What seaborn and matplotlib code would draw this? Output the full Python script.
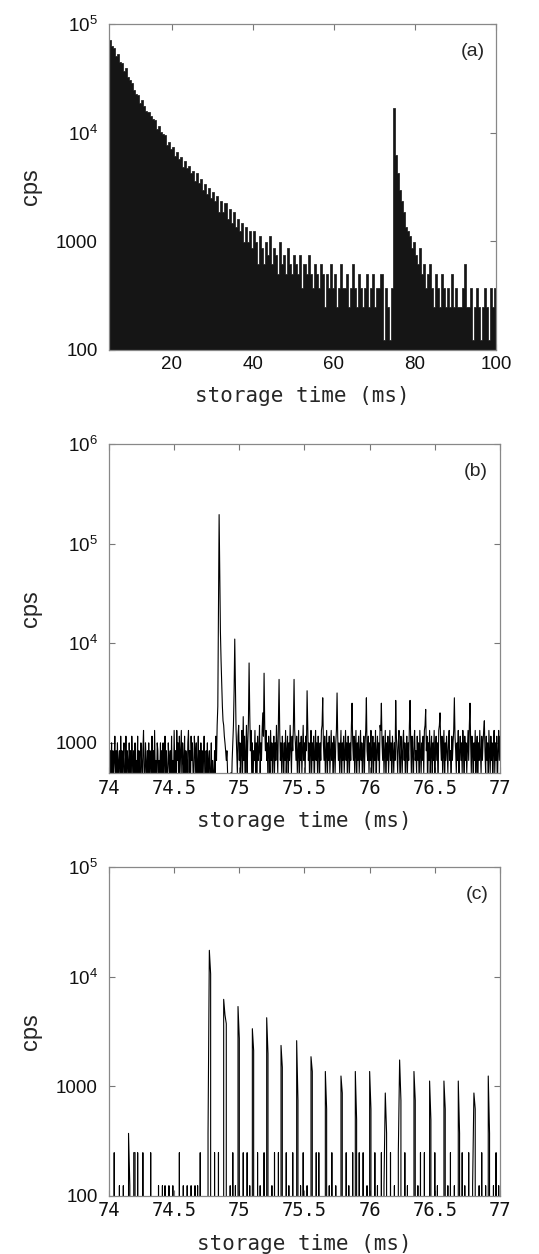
import numpy as np
import pandas as pd
import matplotlib
matplotlib.use("Agg")
import matplotlib.pyplot as plt
from matplotlib.ticker import FixedLocator, NullLocator
import seaborn as sns

# DATA
# (a) storage-time histogram, 0.5 ms bins starting at 4.5 ms, in counts per bin
a_t0 = 4.5
a_bin = 0.5
a_cps_per_count = 124
a_counts = [
    572, 508, 481, 410, 430, 362, 351, 299, 316, 262,   # 4.5 - 9.0
    247, 229, 201, 183, 178, 150, 162, 141, 128, 124,   # 9.5 - 14.0
    115, 108, 106, 88, 93, 82, 79, 77, 62, 66,          # 14.5 - 19.0
    57, 59, 49, 54, 46, 48, 39, 44, 38, 40,             # 19.5 - 24.0
    34, 36, 29, 34, 28, 30, 24, 27, 22, 25,             # 24.5 - 29.0
    20, 23, 19, 21, 15, 19, 15, 18, 13, 16,             # 29.5 - 34.0
    12, 15, 11, 13, 10, 12, 8, 11, 8, 10,               # 34.5 - 39.0
    7, 10, 8, 5, 9, 7, 5, 8, 6, 9,                      # 39.5 - 44.0
    5, 7, 6, 4, 8, 5, 6, 4, 7, 5,                       # 44.5 - 49.0
    4, 6, 5, 4, 6, 3, 5, 4, 6, 4,                       # 49.5 - 54.0
    3, 5, 4, 3, 5, 4, 2, 4, 3, 5,                       # 54.5 - 59.0
    3, 4, 2, 3, 5, 3, 3, 4, 2, 3,                       # 59.5 - 64.0
    5, 3, 2, 4, 3, 2, 3, 4, 2, 3,                       # 64.5 - 69.0
    4, 2, 3, 3, 4, 1, 3, 2, 1, 3,                       # 69.5 - 74.0
    137, 50, 34, 24, 19, 15, 11, 10, 9, 7,              # 74.5 - 79.0
    8, 6, 5, 7, 4, 5, 3, 4, 5, 3,                       # 79.5 - 84.0
    2, 4, 3, 2, 4, 3, 2, 3, 2, 4,                       # 84.5 - 89.0
    2, 3, 2, 2, 3, 5, 2, 2, 3, 1,                       # 89.5 - 94.0
    2, 3, 2, 1, 2, 3, 2, 1, 3, 2,                       # 94.5 - 99.0
    3,                                                  # 99.5
]

# (b): 5 us samples from 74.000 to 77.000 ms, in counts per sample
b_t0 = 74.0
b_dt = 0.005
b_cps_per_count = 167
b_counts = [
    4, 2, 5, 3, 6, 2, 5, 3, 4, 7, 2, 5, 3, 6, 2, 4, 5, 2, 7, 3,          # 74.0
    5, 2, 4, 6, 2, 3, 7, 2, 5, 4, 2, 6, 3, 5, 2, 7, 4, 2, 5, 3,          # 74.1
    6, 2, 4, 3, 7, 2, 5, 3, 2, 6, 4, 2, 5, 8, 3, 2, 6, 4, 2, 5,          # 74.2
    3, 6, 2, 5, 4, 2, 7, 3, 5, 2, 8, 3, 4, 2, 6, 5, 2, 4, 3, 6,          # 74.3
    2, 5, 3, 6, 2, 4, 7, 2, 5, 3, 2, 6, 4, 3, 5, 2, 7, 3, 4, 2,          # 74.4
    8, 3, 5, 2, 8, 4, 6, 2, 7, 3, 5, 8, 2, 6, 4, 3, 7, 2, 5, 4,          # 74.5
    2, 6, 8, 3, 5, 2, 7, 4, 6, 3, 2, 7, 5, 3, 6, 2, 4, 7, 3, 5,          # 74.6
    2, 6, 3, 5, 2, 4, 7, 3, 2, 5, 3, 6, 2, 4, 5, 2, 3, 6, 2, 4,          # 74.7
    3, 2, 5, 3, 7, 4, 9, 14, 120, 1170, 300, 78, 40, 24, 14, 10, 9, 7, 6, 5,  # 74.8
    4, 5, 3, 2, 1, 2, 1, 3, 2, 4, 6, 9, 20, 66, 24, 8, 5, 3, 7, 9,       # 74.9
    4, 6, 2, 5, 8, 3, 11, 4, 7, 2, 5, 9, 3, 6, 10, 38, 12, 5, 8, 3,      # 75.0
    6, 2, 5, 4, 8, 3, 6, 2, 7, 4, 5, 9, 3, 6, 4, 8, 12, 7, 30, 9,        # 75.1
    5, 8, 4, 6, 2, 7, 5, 3, 8, 4, 6, 2, 5, 7, 3, 6, 4, 9, 5, 3,          # 75.2
    10, 26, 8, 4, 6, 3, 7, 5, 2, 6, 4, 8, 3, 5, 7, 2, 6, 4, 9, 5,        # 75.3
    3, 7, 5, 9, 26, 8, 6, 4, 7, 3, 5, 8, 2, 6, 4, 7, 3, 5, 9, 4,         # 75.4
    6, 3, 7, 5, 20, 9, 4, 6, 2, 5, 8, 3, 6, 4, 7, 2, 5, 8, 4, 6,         # 75.5
    3, 7, 5, 2, 6, 4, 8, 9, 17, 6, 4, 7, 3, 5, 8, 2, 6, 4, 7, 3,         # 75.6
    5, 8, 4, 6, 2, 7, 5, 3, 6, 8, 19, 7, 4, 6, 3, 5, 8, 2, 6, 4,         # 75.7
    7, 3, 5, 8, 4, 6, 2, 7, 5, 3, 6, 4, 9, 15, 6, 4, 7, 3, 5, 8,         # 75.8
    2, 6, 4, 7, 3, 5, 8, 4, 6, 2, 5, 7, 3, 6, 8, 17, 5, 4, 7, 3,         # 75.9
    6, 4, 8, 2, 5, 7, 3, 6, 4, 8, 2, 5, 7, 4, 6, 3, 9, 8, 15, 6,         # 76.0
    4, 7, 3, 5, 8, 2, 6, 4, 7, 3, 5, 8, 4, 6, 2, 7, 5, 3, 6, 4,          # 76.1
    16, 7, 5, 3, 6, 8, 4, 2, 7, 5, 3, 6, 8, 4, 6, 2, 5, 7, 3, 6,         # 76.2
    4, 9, 16, 6, 3, 7, 5, 2, 6, 8, 4, 5, 3, 7, 4, 6, 2, 8, 5, 3,         # 76.3
    6, 4, 7, 3, 8, 9, 13, 5, 7, 2, 6, 4, 8, 3, 5, 7, 2, 6, 4, 8,         # 76.4
    3, 5, 7, 4, 6, 2, 8, 9, 12, 6, 4, 7, 3, 5, 8, 2, 6, 4, 7, 5,         # 76.5
    3, 6, 8, 4, 5, 2, 7, 4, 6, 8, 17, 7, 5, 3, 6, 4, 8, 2, 5, 7,         # 76.6
    4, 6, 3, 8, 5, 2, 7, 4, 6, 3, 5, 8, 4, 9, 15, 6, 3, 7, 5, 2,         # 76.7
    6, 4, 8, 3, 5, 7, 2, 6, 4, 8, 5, 3, 7, 4, 6, 8, 10, 5, 3, 7,         # 76.8
    4, 6, 2, 8, 5, 3, 7, 4, 6, 2, 5, 8, 3, 6, 4, 7, 2, 5, 8, 4,          # 76.9
    7,                                                                   # 77.0
]

# (c): 10 us samples from 74.00 to 77.00 ms, in counts per sample
c_t0 = 74.0
c_dt = 0.01
c_cps_per_count = 124
c_counts = [
    0, 0, 0, 0, 2, 0, 0, 0, 1, 0,        # 74.0
    0, 1, 0, 0, 0, 3, 1, 0, 0, 2,        # 74.1
    2, 0, 2, 0, 0, 0, 2, 0, 0, 0,        # 74.2
    0, 0, 2, 0, 0, 0, 0, 0, 1, 0,        # 74.3
    0, 1, 0, 1, 0, 0, 1, 0, 0, 1,        # 74.4
    0, 0, 0, 0, 2, 0, 0, 1, 0, 0,        # 74.5
    1, 0, 0, 1, 0, 0, 1, 0, 1, 0,        # 74.6
    2, 0, 0, 0, 0, 0, 3, 140, 85, 0,     # 74.7
    0, 2, 0, 0, 2, 0, 0, 0, 50, 36,      # 74.8
    30, 0, 0, 1, 0, 2, 0, 1, 0, 43,      # 74.9
    22, 0, 0, 2, 0, 0, 2, 0, 1, 0,       # 75.0
    27, 17, 0, 0, 2, 0, 1, 0, 0, 2,      # 75.1
    0, 34, 16, 0, 0, 1, 0, 2, 0, 0,      # 75.2
    2, 0, 19, 12, 0, 0, 2, 0, 1, 0,      # 75.3
    0, 2, 0, 0, 21, 6, 0, 1, 0, 2,       # 75.4
    0, 0, 1, 0, 0, 15, 11, 0, 0, 2,      # 75.5
    0, 2, 0, 0, 0, 0, 11, 5, 0, 1,       # 75.6
    0, 2, 0, 0, 1, 0, 0, 0, 10, 7,       # 75.7
    0, 0, 2, 0, 1, 0, 0, 2, 0, 11,       # 75.8
    4, 0, 2, 0, 0, 2, 0, 0, 1, 0,        # 75.9
    11, 5, 0, 0, 2, 0, 1, 0, 0, 2,       # 76.0
    0, 1, 7, 3, 0, 0, 2, 0, 0, 1,        # 76.1
    0, 0, 2, 14, 6, 0, 0, 2, 0, 1,       # 76.2
    0, 0, 0, 0, 11, 6, 0, 1, 0, 2,       # 76.3
    0, 0, 2, 0, 0, 0, 9, 4, 0, 0,        # 76.4
    2, 0, 1, 0, 0, 0, 0, 9, 5, 0,        # 76.5
    1, 0, 2, 0, 0, 1, 0, 0, 9, 3,        # 76.6
    0, 2, 0, 1, 0, 0, 2, 0, 0, 1,        # 76.7
    7, 5, 0, 0, 1, 0, 2, 0, 0, 1,        # 76.8
    0, 10, 3, 0, 0, 1, 0, 2, 0, 1,       # 76.9
    0,                                   # 77.0
]

a_xticks = [20, 40, 60, 80, 100]
a_yticks = [100, 1000, 1e4, 1e5]
a_ylabels = ['100', '1000', '$10^{4}$', '$10^{5}$']
bc_xticks = [74, 74.5, 75, 75.5, 76, 76.5, 77]
bc_xlabels = ['74', '74.5', '75', '75.5', '76', '76.5', '77']
b_yticks = [1000, 1e4, 1e5, 1e6]
b_ylabels = ['1000', '$10^{4}$', '$10^{5}$', '$10^{6}$']
c_yticks = [100, 1000, 1e4, 1e5]
c_ylabels = ['100', '1000', '$10^{4}$', '$10^{5}$']

# STYLE
sns.set_style("ticks")
plt.rcParams['font.family'] = ['Liberation Sans', 'DejaVu Sans']
plt.rcParams['mathtext.fontset'] = 'custom'
plt.rcParams['mathtext.rm'] = 'Liberation Sans'
plt.rcParams['mathtext.it'] = 'Liberation Sans:italic'
plt.rcParams['mathtext.bf'] = 'Liberation Sans:bold'

fig = plt.figure(figsize=(5.39, 12.54), dpi=100)
ax_a = fig.add_axes([0.2022, 0.7209, 0.7180, 0.2600])
ax_b = fig.add_axes([0.2022, 0.3836, 0.7254, 0.2624])
ax_c = fig.add_axes([0.2022, 0.0463, 0.7254, 0.2624])

# (a) histogram
a_edges = a_t0 + a_bin * np.arange(len(a_counts) + 1)
df_a = pd.DataFrame({
    't': a_edges[:-1] + a_bin / 2,
    'cps': np.array(a_counts) * a_cps_per_count,
})
sns.histplot(data=df_a, x='t', weights='cps', bins=list(a_edges),
             element='step', fill=True, color='#151515',
             alpha=1, linewidth=0.5, ax=ax_a)

# (b) and (c) time traces
df_b = pd.DataFrame({
    't': np.round(b_t0 + b_dt * np.arange(len(b_counts)), 3),
    'cps': np.array(b_counts) * b_cps_per_count,
})
df_c = pd.DataFrame({
    't': np.round(c_t0 + c_dt * np.arange(len(c_counts)), 3),
    'cps': np.array(c_counts) * c_cps_per_count,
})
sns.lineplot(data=df_b, x='t', y='cps', color='black',
             lw=0.8, estimator=None, sort=False, ax=ax_b)
sns.lineplot(data=df_c, x='t', y='cps', color='black',
             lw=0.8, estimator=None, sort=False, ax=ax_c)


def style_axes(ax, xlim, ylim, xticks, xlabels, yticks, ylabels, tag, mono):
    ax.set_yscale('log')
    ax.set_xlim(*xlim)
    ax.set_ylim(*ylim)
    ax.yaxis.set_major_locator(FixedLocator(yticks))
    ax.yaxis.set_minor_locator(NullLocator())
    ax.set_yticklabels(ylabels)
    ax.set_xticks(xticks, xlabels)
    ax.xaxis.set_minor_locator(NullLocator())
    ax.tick_params(axis='both', which='major', direction='in', length=4,
                   width=0.8, color='#777777', labelcolor='#111111',
                   top=True, right=True, labelsize=13.5)
    ax.tick_params(axis='y', pad=8)
    ax.tick_params(axis='x', pad=4)
    if mono:
        for lbl in ax.get_xticklabels():
            lbl.set_fontfamily('DejaVu Sans Mono')
            lbl.set_fontsize(13.5)
    for sp in ax.spines.values():
        sp.set_visible(True)
        sp.set_color('#888888')
        sp.set_linewidth(0.9)
    ax.set_xlabel('storage time (ms)', fontsize=15, family='DejaVu Sans Mono',
                  labelpad=10)
    ax.set_ylabel('cps', fontsize=17, labelpad=10)
    ax.text(0.97, 0.915, tag, transform=ax.transAxes, ha='right', va='center',
            fontsize=14)


style_axes(ax_a, (4.5, 100), (100, 1e5), a_xticks, [str(v) for v in a_xticks],
           a_yticks, a_ylabels, '(a)', False)
style_axes(ax_b, (74, 77), (500, 1e6), bc_xticks, bc_xlabels,
           b_yticks, b_ylabels, '(b)', True)
style_axes(ax_c, (74, 77), (100, 1e5), bc_xticks, bc_xlabels,
           c_yticks, c_ylabels, '(c)', True)

fig.savefig('out.png', dpi=100)
